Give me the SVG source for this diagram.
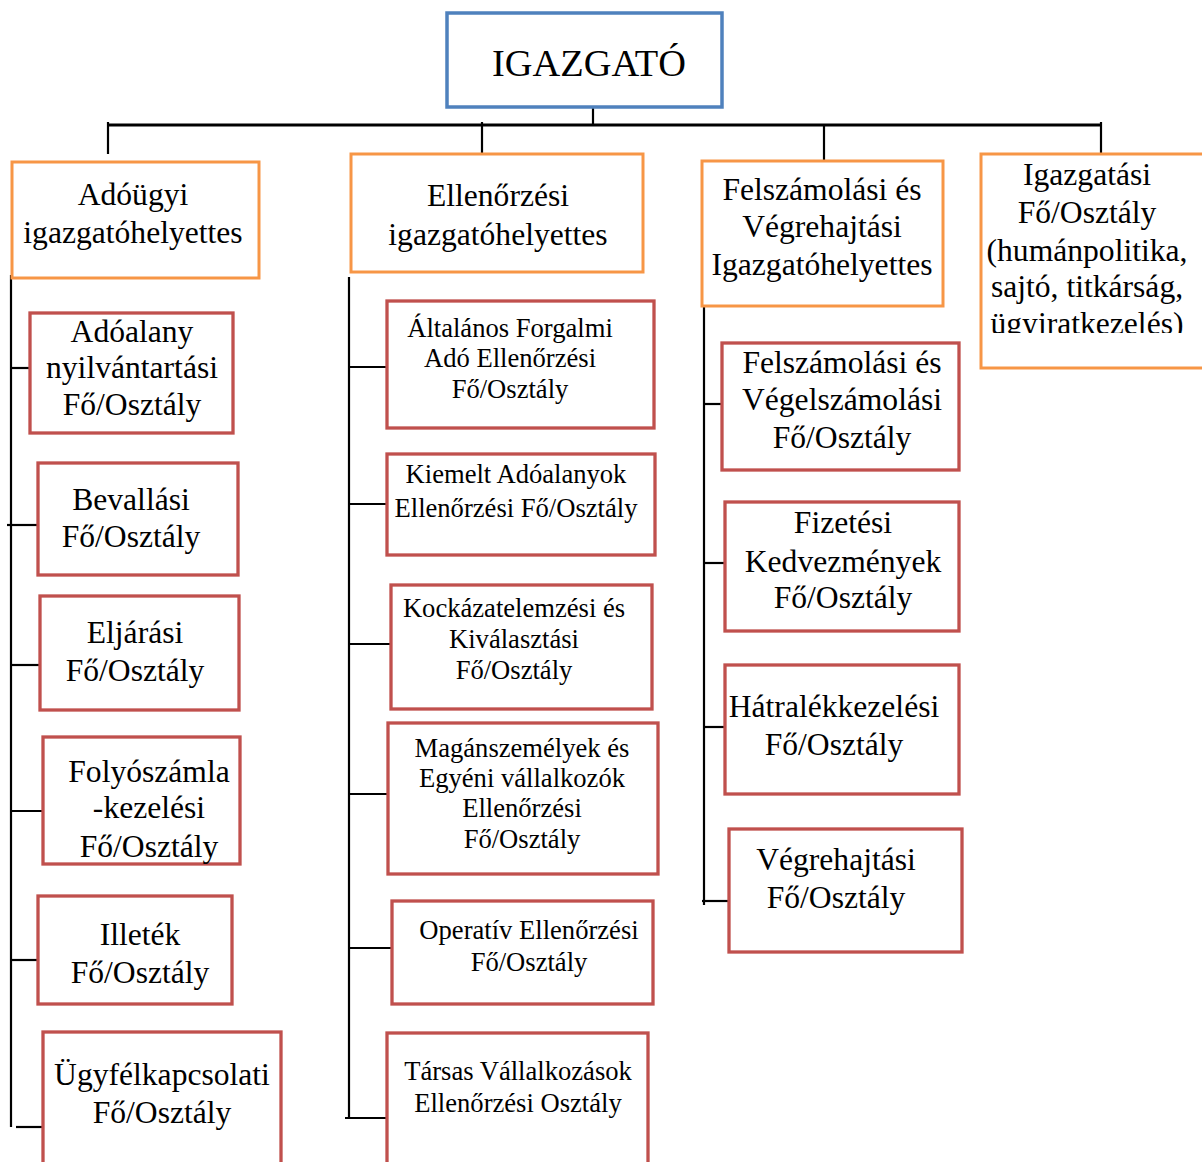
<svg xmlns="http://www.w3.org/2000/svg" width="1202" height="1162" viewBox="0 0 1202 1162">
<style>
text{font-family:"Liberation Serif","Times New Roman",serif;fill:#000;text-anchor:middle}
.big{font-size:31.6px}
.sm{font-size:26.6px}
.top{fill:#fff;stroke:#4F81BD;stroke-width:3.5}
.dep{fill:#fff;stroke:#F79646;stroke-width:3}
.unit{fill:#fff;stroke:#C0504D;stroke-width:3.3}
.ln{stroke:#000;stroke-width:2.2;fill:none}
.thick{stroke:#000;stroke-width:3;fill:none}
</style>
<defs>
<clipPath id="clip4"><rect x="975" y="150" width="240" height="183"/></clipPath>
</defs>
<rect width="1202" height="1162" fill="#fff"/>
<g id="connectors">
<line class="ln" x1="593" y1="97" x2="593" y2="125"/>
<line class="thick" x1="107" y1="125" x2="1102" y2="125"/>
<line class="ln" x1="108" y1="122" x2="108" y2="154"/>
<line class="ln" x1="482" y1="122" x2="482" y2="157"/>
<line class="ln" x1="824" y1="126" x2="824" y2="160"/>
<line class="ln" x1="1101" y1="122" x2="1101" y2="154"/>
<line class="ln" x1="11" y1="275" x2="11" y2="1127"/>
<line class="ln" x1="11" y1="368" x2="29" y2="368"/>
<line class="ln" x1="7" y1="525" x2="37" y2="525"/>
<line class="ln" x1="11" y1="665" x2="40" y2="665"/>
<line class="ln" x1="12" y1="811" x2="48" y2="811"/>
<line class="ln" x1="12" y1="960" x2="37" y2="960"/>
<line class="ln" x1="16" y1="1127" x2="43" y2="1127"/>
<line class="ln" x1="349" y1="277" x2="349" y2="1118"/>
<line class="ln" x1="349" y1="367" x2="386" y2="367"/>
<line class="ln" x1="349" y1="504" x2="386" y2="504"/>
<line class="ln" x1="349" y1="644" x2="390" y2="644"/>
<line class="ln" x1="349" y1="794" x2="387" y2="794"/>
<line class="ln" x1="349" y1="948" x2="392" y2="948"/>
<line class="ln" x1="345" y1="1118" x2="387" y2="1118"/>
<line class="ln" x1="704" y1="306" x2="704" y2="905"/>
<line class="ln" x1="704" y1="404" x2="722" y2="404"/>
<line class="ln" x1="704" y1="563" x2="725" y2="563"/>
<line class="ln" x1="704" y1="727" x2="725" y2="727"/>
<line class="ln" x1="702" y1="901" x2="728" y2="901"/>
</g>
<g id="igazgato">
<rect class="top" x="447" y="13" width="275" height="94"/>
<text x="589" y="76" style="font-size:38px" textLength="194" lengthAdjust="spacingAndGlyphs">IGAZGATÓ</text>
</g>
<g id="adougyi">
<rect class="dep" x="12" y="162" width="247" height="116"/>
<text class="big" x="133" y="205">Adóügyi</text>
<text class="big" x="133" y="243">igazgatóhelyettes</text>
</g>
<g id="ellenorzesi">
<rect class="dep" x="351" y="154" width="292" height="118"/>
<text class="big" x="498" y="206">Ellenőrzési</text>
<text class="big" x="498" y="245">igazgatóhelyettes</text>
</g>
<g id="felszamolasi">
<rect class="dep" x="702" y="161" width="241" height="145"/>
<text class="big" x="822" y="200">Felszámolási és</text>
<text class="big" x="822" y="237">Végrehajtási</text>
<text class="big" x="822" y="275">Igazgatóhelyettes</text>
</g>
<g id="igazgatasi">
<rect class="dep" x="981" y="154" width="240" height="214"/>
<g clip-path="url(#clip4)">
<text class="big" x="1087" y="185">Igazgatási</text>
<text class="big" x="1087" y="223">Fő/Osztály</text>
<text class="big" x="1087" y="261">(humánpolitika,</text>
<text class="big" x="1087" y="297">sajtó, titkárság,</text>
<text class="big" x="1087" y="334">ügyiratkezelés)</text>
</g>
</g>
<g id="adoalany">
<rect class="unit" x="30" y="313" width="203" height="120"/>
<text class="big" x="132" y="342">Adóalany</text>
<text class="big" x="132" y="378">nyilvántartási</text>
<text class="big" x="132" y="415">Fő/Osztály</text>
</g>
<g id="bevallasi">
<rect class="unit" x="38" y="463" width="200" height="112"/>
<text class="big" x="131" y="510">Bevallási</text>
<text class="big" x="131" y="547">Fő/Osztály</text>
</g>
<g id="eljarasi">
<rect class="unit" x="40" y="596" width="199" height="114"/>
<text class="big" x="135" y="643">Eljárási</text>
<text class="big" x="135" y="681">Fő/Osztály</text>
</g>
<g id="folyoszamla">
<rect class="unit" x="43" y="737" width="197" height="127"/>
<text class="big" x="149" y="782">Folyószámla</text>
<text class="big" x="149" y="818">-kezelési</text>
<text class="big" x="149" y="857">Fő/Osztály</text>
</g>
<g id="illetek">
<rect class="unit" x="38" y="896" width="194" height="108"/>
<text class="big" x="140" y="945">Illeték</text>
<text class="big" x="140" y="983">Fő/Osztály</text>
</g>
<g id="ugyfelkapcsolati">
<rect class="unit" x="43" y="1032" width="238" height="140"/>
<text class="big" x="162" y="1085">Ügyfélkapcsolati</text>
<text class="big" x="162" y="1123">Fő/Osztály</text>
</g>
<g id="afa">
<rect class="unit" x="387" y="301" width="267" height="127"/>
<text class="sm" x="510" y="337">Általános Forgalmi</text>
<text class="sm" x="510" y="367">Adó Ellenőrzési</text>
<text class="sm" x="510" y="398">Fő/Osztály</text>
</g>
<g id="kiemelt">
<rect class="unit" x="387" y="454" width="268" height="101"/>
<text class="sm" x="516" y="483">Kiemelt Adóalanyok</text>
<text class="sm" x="516" y="517">Ellenőrzési Fő/Osztály</text>
</g>
<g id="kockazat">
<rect class="unit" x="391" y="585" width="261" height="124"/>
<text class="sm" x="514" y="617">Kockázatelemzési és</text>
<text class="sm" x="514" y="648">Kiválasztási</text>
<text class="sm" x="514" y="679">Fő/Osztály</text>
</g>
<g id="maganszemelyek">
<rect class="unit" x="388" y="723" width="270" height="151"/>
<text class="sm" x="522" y="757">Magánszemélyek és</text>
<text class="sm" x="522" y="787">Egyéni vállalkozók</text>
<text class="sm" x="522" y="817">Ellenőrzési</text>
<text class="sm" x="522" y="848">Fő/Osztály</text>
</g>
<g id="operativ">
<rect class="unit" x="392" y="901" width="261" height="103"/>
<text class="sm" x="529" y="939">Operatív Ellenőrzési</text>
<text class="sm" x="529" y="971">Fő/Osztály</text>
</g>
<g id="tarsas">
<rect class="unit" x="387" y="1033" width="261" height="140"/>
<text class="sm" x="518" y="1080">Társas Vállalkozások</text>
<text class="sm" x="518" y="1112">Ellenőrzési Osztály</text>
</g>
<g id="vegelszamolasi">
<rect class="unit" x="722" y="343" width="237" height="127"/>
<text class="big" x="842" y="373">Felszámolási és</text>
<text class="big" x="842" y="410">Végelszámolási</text>
<text class="big" x="842" y="448">Fő/Osztály</text>
</g>
<g id="fizetesi">
<rect class="unit" x="725" y="502" width="234" height="129"/>
<text class="big" x="843" y="533">Fizetési</text>
<text class="big" x="843" y="572">Kedvezmények</text>
<text class="big" x="843" y="608">Fő/Osztály</text>
</g>
<g id="hatralek">
<rect class="unit" x="725" y="665" width="234" height="129"/>
<text class="big" x="834" y="717">Hátralékkezelési</text>
<text class="big" x="834" y="755">Fő/Osztály</text>
</g>
<g id="vegrehajtasi">
<rect class="unit" x="729" y="829" width="233" height="123"/>
<text class="big" x="836" y="870">Végrehajtási</text>
<text class="big" x="836" y="908">Fő/Osztály</text>
</g>
</svg>
